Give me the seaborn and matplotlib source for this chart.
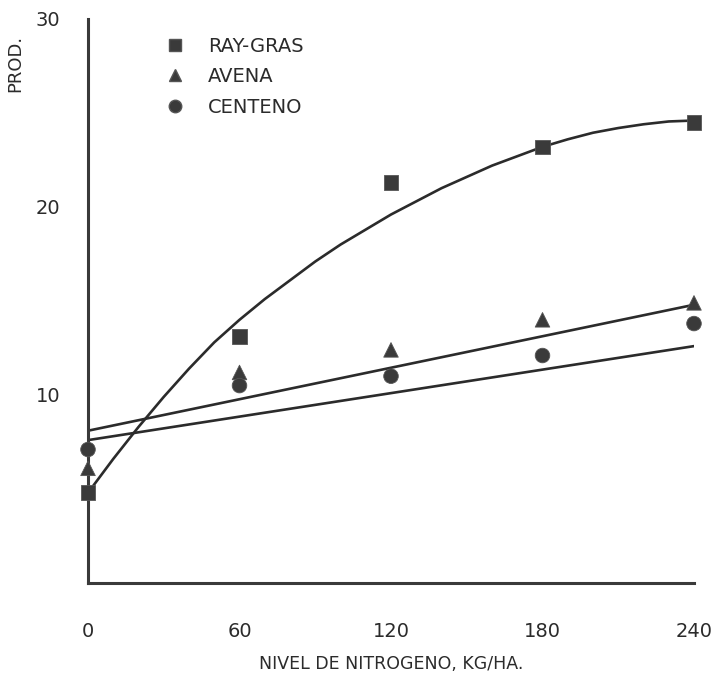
import pandas as pd
import matplotlib
matplotlib.use("Agg")
import matplotlib.pyplot as plt
import seaborn as sns

# === DATA ===
nitrogen = [0, 60, 120, 180, 240]
raygras = [4.8, 13.1, 21.3, 23.2, 24.5]
avena = [6.1, 11.2, 12.4, 14.0, 14.9]
centeno = [7.1, 10.5, 11.0, 12.1, 13.8]

# hand drawn fitted curve for ray-gras, read every 10 kg/ha
curve_x = [0, 10, 20, 30, 40, 50, 60, 70, 80, 90, 100, 110, 120,
           130, 140, 150, 160, 170, 180, 190, 200, 210, 220, 230, 240]
curve_y = [4.8, 6.6, 8.3, 9.9, 11.4, 12.8, 14.0, 15.1, 16.1, 17.1, 18.0, 18.8, 19.6,
           20.3, 21.0, 21.6, 22.2, 22.7, 23.2, 23.6, 23.95, 24.2, 24.4, 24.55, 24.6]

# hand drawn straight lines (avena upper, centeno lower)
line_x = [0, 240]
avena_line = [8.1, 14.8]
centeno_line = [7.6, 12.6]

series_names = ["RAY-GRAS", "AVENA", "CENTENO"]
x_ticks = [0, 60, 120, 180, 240]
y_ticks = [10, 20, 30]

INK = "#2b2b2b"

sns.set_style("white")
plt.rcParams['font.family'] = ['DejaVu Sans']

fig = plt.figure(figsize=(7.2, 6.76), dpi=100)
ax = fig.add_axes([88 / 720, 1 - 583 / 676, 606 / 720, 564 / 676])

# === FIT LINES ===
sns.lineplot(x=curve_x, y=curve_y, ax=ax, color=INK, lw=1.9)
sns.lineplot(x=line_x, y=avena_line, ax=ax, color=INK, lw=1.9)
sns.lineplot(x=line_x, y=centeno_line, ax=ax, color=INK, lw=1.9)

# === POINTS ===
df = pd.DataFrame({
    "n": nitrogen * 3,
    "prod": raygras + avena + centeno,
    "serie": [s for s in series_names for _ in nitrogen],
})
markers = {"RAY-GRAS": "s", "AVENA": "^", "CENTENO": "o"}
sns.scatterplot(data=df, x="n", y="prod", style="serie", markers=markers,
                color="#3a3a3a", s=110, edgecolor="#555555", linewidth=0.6,
                ax=ax, clip_on=False, zorder=5, legend=False)

# legend built by hand to look like the hand lettered key
handles = [plt.Line2D([], [], ls="", marker=markers[s], ms=9, color="#3a3a3a",
                      markeredgecolor="#555555") for s in series_names]
ax.legend(handles, series_names, loc="upper left", bbox_to_anchor=(0.082, 1.0),
          frameon=False, fontsize=14, handletextpad=0.7, labelspacing=0.6,
          labelcolor=INK)

# === AXES ===
ax.set_xlim(0, 240)
ax.set_ylim(0, 30)
ax.set_xticks(x_ticks)
ax.set_yticks(y_ticks)
ax.set_xticklabels([str(v) for v in x_ticks], fontsize=14, color=INK)
ax.set_yticklabels([str(v) for v in y_ticks], fontsize=14, color=INK)
ax.tick_params(axis="x", direction="in", length=7, width=1.5, pad=28, colors=INK)
ax.tick_params(axis="y", direction="in", length=7, width=1.5, pad=20, colors=INK)
for side in ["top", "right"]:
    ax.spines[side].set_visible(False)
for side in ["left", "bottom"]:
    ax.spines[side].set_color("#3a3a3a")
    ax.spines[side].set_linewidth(2.2)

ax.set_xlabel("NIVEL DE NITROGENO, KG/HA.", fontsize=12.5, color=INK, labelpad=10)
ax.set_ylabel("")

# y label sits in the top left corner, as in the scan
fig.text(15 / 720, 1 - 92 / 676, "PROD.", rotation=90, fontsize=13,
         color=INK, ha="center", va="bottom")

fig.savefig("out.png", dpi=100)
